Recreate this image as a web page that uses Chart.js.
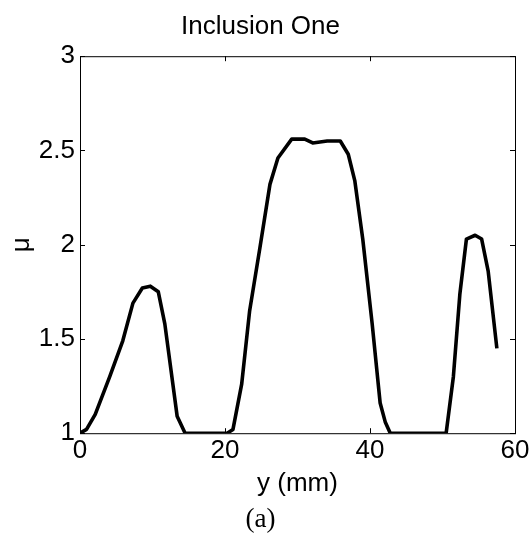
<!DOCTYPE html>
<html lang="en">
<head>
  <meta charset="UTF-8" />
  <title>Inclusion One</title>
  <script src="https://cdn.jsdelivr.net/npm/chart.js"></script>
  <style>
    body {
      margin: 0;
      background: #fff;
    }
    canvas {
      display: block;
    }
  </style>
</head>
<body>
  <canvas id="muChart" width="532" height="542"></canvas>

  <script>
    // y position (mm) and mu
    const yPos = [0, 0.9, 2.1, 4.1, 5.9, 7.3, 8.6, 9.7, 10.8, 11.7, 13.4, 14.5,
      20.3, 21.1, 22.3, 23.4, 24.8, 26.2, 27.3, 29.2, 31.0, 32.1, 34.1, 35.9,
      37.0, 37.9, 39.0, 40.3, 41.4, 42.1, 42.8,
      50.5, 51.5, 52.4, 53.3, 54.5, 55.4, 56.3, 57.5];
    const muVals = [1.0, 1.02, 1.10, 1.30, 1.49, 1.69, 1.77, 1.78, 1.75, 1.58, 1.09, 1.0,
      1.0, 1.02, 1.26, 1.65, 1.98, 2.32, 2.46, 2.56, 2.56, 2.54, 2.55, 2.55,
      2.48, 2.34, 2.03, 1.58, 1.16, 1.06, 1.0,
      1.0, 1.30, 1.74, 2.03, 2.05, 2.03, 1.86, 1.45];

    const xTicks = [0, 20, 40, 60];
    const yTicks = [1, 1.5, 2, 2.5, 3];

    Chart.defaults.font.family = "'Liberation Sans', Arial, sans-serif";
    Chart.defaults.font.size = 26;
    Chart.defaults.color = "#000";

    // matlab style box with inward tick marks
    const boxPlugin = {
      id: "box",
      afterDraw(chart) {
        const ctx = chart.ctx;
        const a = chart.chartArea;
        const xs = chart.scales.x;
        const ys = chart.scales.y;
        const len = 5;
        ctx.save();
        ctx.strokeStyle = "#000";
        ctx.lineWidth = 1;
        ctx.strokeRect(a.left + 0.5, a.top + 0.5, a.right - a.left, a.bottom - a.top);
        ctx.beginPath();
        xTicks.forEach(v => {
          const px = Math.round(xs.getPixelForValue(v)) + 0.5;
          ctx.moveTo(px, a.bottom);
          ctx.lineTo(px, a.bottom - len);
          ctx.moveTo(px, a.top);
          ctx.lineTo(px, a.top + len);
        });
        yTicks.forEach(v => {
          const py = Math.round(ys.getPixelForValue(v)) + 0.5;
          ctx.moveTo(a.left, py);
          ctx.lineTo(a.left + len, py);
          ctx.moveTo(a.right, py);
          ctx.lineTo(a.right - len, py);
        });
        ctx.stroke();
        ctx.restore();
      }
    };

    const chart = new Chart(document.getElementById("muChart").getContext("2d"), {
      type: "line",
      data: {
        datasets: [{
          data: yPos.map((x, i) => ({ x: x, y: muVals[i] })),
          borderColor: "#000",
          borderWidth: 3.6,
          borderJoinStyle: "round",
          pointRadius: 0,
          tension: 0,
          fill: false
        }]
      },
      options: {
        responsive: false,
        animation: false,
        layout: {
          padding: { left: 6, right: 17, top: 0, bottom: 6 }
        },
        plugins: {
          legend: { display: false },
          tooltip: { enabled: false },
          title: {
            display: true,
            text: "Inclusion One",
            font: { size: 26, weight: "normal" },
            padding: { top: 11, bottom: 14 }
          },
          subtitle: {
            display: true,
            position: "bottom",
            text: "(a)",
            font: { family: "'Liberation Serif', serif", size: 27 },
            padding: { top: 4, bottom: 0 }
          }
        },
        scales: {
          x: {
            type: "linear",
            min: 0,
            max: 60,
            afterBuildTicks: s => { s.ticks = xTicks.map(v => ({ value: v })); },
            grid: { display: false, drawTicks: false },
            border: { display: false },
            ticks: { padding: 2 },
            title: {
              display: true,
              text: "y (mm)",
              padding: { top: 0, bottom: 0 }
            }
          },
          y: {
            min: 1,
            max: 3,
            afterBuildTicks: s => { s.ticks = yTicks.map(v => ({ value: v })); },
            afterFit: s => { s.width = 74; },
            grid: { display: false, drawTicks: false },
            border: { display: false },
            ticks: {
              padding: 5,
              callback: v => String(v)
            },
            title: {
              display: true,
              text: "μ",
              padding: { top: 0, bottom: 2 }
            }
          }
        }
      },
      plugins: [boxPlugin]
    });
  </script>
</body>
</html>
